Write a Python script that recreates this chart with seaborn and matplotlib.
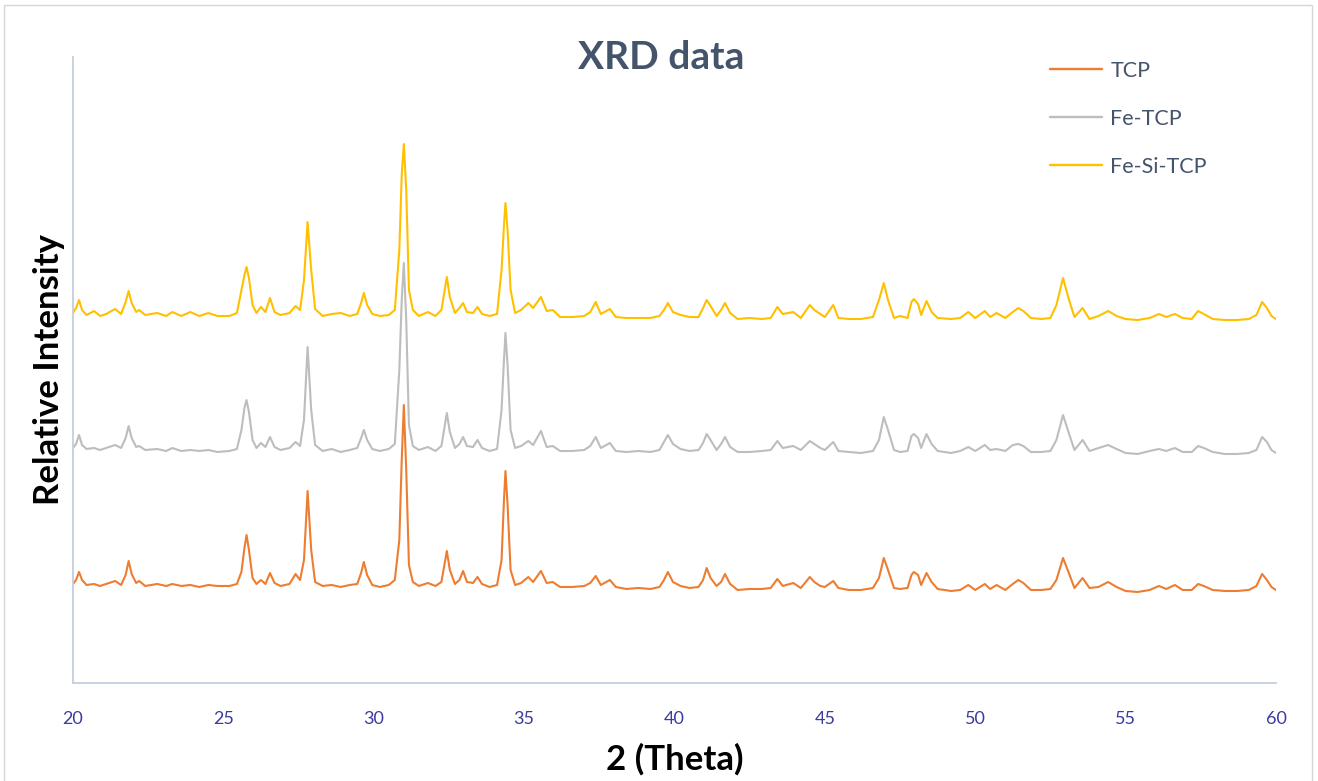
#------------------------XRD data plot---------------------
# 1.Import Moduls
import pandas as pd
import matplotlib
matplotlib.use("Agg")
import matplotlib.pyplot as plt
import seaborn as sns
from matplotlib.patches import Rectangle

# 2.Data
two_theta = [
    20.0, 20.1, 20.2, 20.3, 20.45, 20.7, 20.9, 21.1, 21.4, 21.6,
    21.75, 21.85, 21.95, 22.1, 22.2, 22.4, 22.8, 23.1, 23.3, 23.6,
    23.9, 24.2, 24.5, 24.8, 25.2, 25.45, 25.6, 25.7, 25.77, 25.85,
    25.97, 26.1, 26.25, 26.4, 26.55, 26.7, 26.9, 27.2, 27.4, 27.55,
    27.68, 27.8, 27.92, 28.05, 28.3, 28.6, 28.9, 29.2, 29.45, 29.58,
    29.67, 29.78, 29.95, 30.2, 30.5, 30.7, 30.85, 30.93, 31.0, 31.08,
    31.17, 31.3, 31.5, 31.8, 32.05, 32.25, 32.35, 32.43, 32.53, 32.7,
    32.85, 32.97, 33.1, 33.3, 33.45, 33.6, 33.85, 34.1, 34.25, 34.33,
    34.38, 34.45, 34.55, 34.7, 34.9, 35.14, 35.3, 35.56, 35.75, 35.95,
    36.2, 36.6, 37.0, 37.2, 37.38, 37.55, 37.85, 38.05, 38.4, 38.8,
    39.2, 39.5, 39.65, 39.78, 39.95, 40.2, 40.5, 40.8, 40.95, 41.07,
    41.2, 41.4, 41.55, 41.68, 41.85, 42.1, 42.5, 42.9, 43.2, 43.42,
    43.6, 43.95, 44.2, 44.5, 44.65, 44.85, 45.0, 45.28, 45.45, 45.8,
    46.2, 46.6, 46.8, 46.96, 47.1, 47.3, 47.5, 47.75, 47.88, 47.96,
    48.1, 48.2, 48.38, 48.55, 48.75, 49.2, 49.5, 49.77, 50.0, 50.32,
    50.5, 50.71, 51.0, 51.25, 51.43, 51.6, 51.85, 52.2, 52.5, 52.7,
    52.92, 53.1, 53.3, 53.57, 53.8, 54.1, 54.42, 54.7, 55.0, 55.4,
    55.8, 56.11, 56.35, 56.64, 56.9, 57.2, 57.41, 57.6, 57.9, 58.3,
    58.7, 59.1, 59.35, 59.54, 59.7, 59.85, 60.0,
]

tcp = [
    99, 103, 111, 103, 98, 99, 97, 99, 102, 98,
    108, 122, 109, 100, 102, 97, 99, 97, 99, 97,
    98, 96, 98, 97, 97, 99, 111, 135, 148, 133,
    105, 99, 103, 99, 110, 100, 97, 99, 109, 103,
    123, 192, 133, 101, 97, 98, 96, 98, 99, 110,
    121, 108, 98, 96, 98, 103, 143, 223, 278, 213,
    118, 101, 97, 100, 97, 101, 118, 132, 113, 99,
    103, 112, 101, 100, 106, 99, 96, 98, 123, 183,
    212, 178, 113, 98, 100, 106, 101, 112, 100, 101,
    96, 96, 97, 100, 107, 98, 103, 96, 94, 95,
    94, 96, 103, 111, 101, 97, 95, 96, 103, 115,
    105, 97, 101, 109, 99, 93, 94, 94, 95, 104,
    97, 100, 95, 106, 101, 97, 96, 102, 95, 93,
    93, 95, 105, 125, 113, 95, 94, 95, 108, 111,
    108, 98, 110, 101, 94, 92, 93, 98, 93, 99,
    94, 98, 93, 99, 103, 100, 93, 93, 94, 103,
    125, 111, 95, 105, 95, 96, 101, 96, 92, 91,
    93, 97, 94, 98, 93, 93, 99, 97, 93, 92,
    92, 93, 97, 109, 103, 96, 93,
]

fe_tcp = [
    235, 239, 248, 238, 234, 235, 233, 235, 238, 235,
    245, 257, 245, 236, 237, 233, 234, 232, 235, 232,
    233, 232, 233, 231, 232, 234, 253, 275, 283, 271,
    243, 235, 240, 236, 246, 236, 233, 235, 241, 237,
    263, 336, 273, 238, 232, 234, 231, 233, 235, 245,
    253, 243, 234, 232, 234, 239, 313, 383, 420, 363,
    258, 237, 233, 236, 232, 237, 255, 270, 251, 235,
    239, 246, 237, 236, 243, 235, 232, 234, 273, 323,
    350, 318, 253, 235, 237, 242, 238, 252, 236, 237,
    232, 232, 233, 237, 246, 235, 240, 232, 231, 232,
    231, 233, 241, 248, 239, 234, 232, 233, 240, 249,
    243, 233, 239, 246, 236, 231, 231, 232, 233, 242,
    235, 237, 233, 242, 239, 235, 233, 241, 232, 231,
    230, 232, 243, 266, 253, 233, 231, 232, 247, 249,
    245, 235, 249, 239, 232, 230, 232, 236, 232, 238,
    233, 234, 232, 238, 239, 237, 231, 231, 232, 243,
    268, 251, 233, 243, 232, 235, 238, 234, 230, 229,
    232, 234, 232, 235, 231, 231, 237, 235, 231, 229,
    229, 230, 233, 246, 241, 233, 230,
]

fe_si_tcp = [
    370, 375, 383, 373, 368, 372, 367, 369, 374, 369,
    381, 392, 380, 371, 373, 368, 370, 367, 371, 367,
    371, 367, 370, 367, 367, 370, 393, 408, 416, 405,
    378, 370, 376, 371, 385, 371, 368, 370, 377, 373,
    403, 461, 413, 374, 367, 369, 370, 367, 369, 380,
    390, 378, 369, 367, 368, 373, 433, 508, 539, 493,
    393, 373, 367, 371, 367, 373, 391, 406, 386, 370,
    375, 380, 371, 370, 376, 369, 367, 369, 413, 458,
    480, 453, 393, 370, 373, 380, 375, 386, 372, 373,
    366, 366, 367, 371, 381, 369, 374, 366, 365, 365,
    365, 367, 373, 380, 371, 368, 366, 366, 375, 383,
    377, 367, 373, 380, 370, 364, 365, 364, 365, 376,
    369, 371, 365, 378, 373, 369, 366, 378, 365, 364,
    364, 366, 383, 400, 383, 365, 367, 365, 381, 384,
    379, 368, 382, 371, 365, 364, 365, 371, 365, 372,
    366, 370, 365, 371, 375, 372, 365, 364, 365, 378,
    405, 385, 366, 375, 364, 367, 372, 367, 364, 363,
    365, 369, 366, 369, 365, 364, 372, 369, 364, 363,
    363, 364, 368, 381, 375, 367, 364,
]

series_names = ["TCP", "Fe-TCP", "Fe-Si-TCP"]
series_colors = ["#ED7D31", "#BDBDBD", "#FFC000"]
x_ticks = [20, 25, 30, 35, 40, 45, 50, 55, 60]

# long table for seaborn
xrd_data = pd.DataFrame({
    "two_theta": two_theta * 3,
    "intensity": tcp + fe_tcp + fe_si_tcp,
    "sample": [series_names[0]] * len(tcp) + [series_names[1]] * len(fe_tcp)
              + [series_names[2]] * len(fe_si_tcp),
})

# 3.Settings
sns.set_theme(style="white")
plt.rcParams["font.family"] = ["Lato", "DejaVu Sans"]

fig = plt.figure(figsize=(13.18, 7.81), dpi=100)
ax = fig.add_axes([0.0554, 0.1255, 0.9127, 0.8015])

# 4.Plot
sns.lineplot(data=xrd_data, x="two_theta", y="intensity", hue="sample",
             hue_order=series_names, palette=dict(zip(series_names, series_colors)),
             estimator=None, sort=False, linewidth=1.5, ax=ax)

ax.set_xlim(20, 60)
ax.set_ylim(0, 626)
ax.set_xticks(x_ticks)
ax.set_yticks([])
ax.tick_params(axis="x", length=0, pad=20, labelsize=13, labelcolor="#3B3BA0")

for side in ["top", "right"]:
    ax.spines[side].set_visible(False)
ax.spines["left"].set_color("#C3CEDD")
ax.spines["bottom"].set_color("#C3CEDD")
ax.spines["left"].set_linewidth(1.3)
ax.spines["bottom"].set_linewidth(1.3)

ax.set_xlabel("2 (Theta)", fontsize=25, fontweight="bold", color="black", labelpad=12)
ax.set_ylabel("Relative Intensity", fontsize=25, fontweight="bold", color="black", labelpad=6)

fig.text(0.5015, 0.926, "XRD data", ha="center", va="center", fontsize=28,
         fontweight="bold", color="#44546A")

# legend top right, no frame
handles, labels = ax.get_legend_handles_labels()
leg = ax.legend(handles, labels, loc="upper left", bbox_to_anchor=(0.7967, 0.922),
                bbox_transform=fig.transFigure, frameon=False, fontsize=15.5,
                handlelength=2.4, handletextpad=0.4, labelspacing=1.3,
                borderpad=0, borderaxespad=0)
for txt in leg.get_texts():
    txt.set_color("#44546A")
for line in leg.get_lines():
    line.set_linewidth(1.7)

# light border round the whole chart
fig.patches.append(Rectangle((0.003, -0.01), 0.9924, 1.0036, transform=fig.transFigure,
                             fill=False, edgecolor="#D6D6D6", linewidth=1))

fig.savefig("out.png", dpi=100)
